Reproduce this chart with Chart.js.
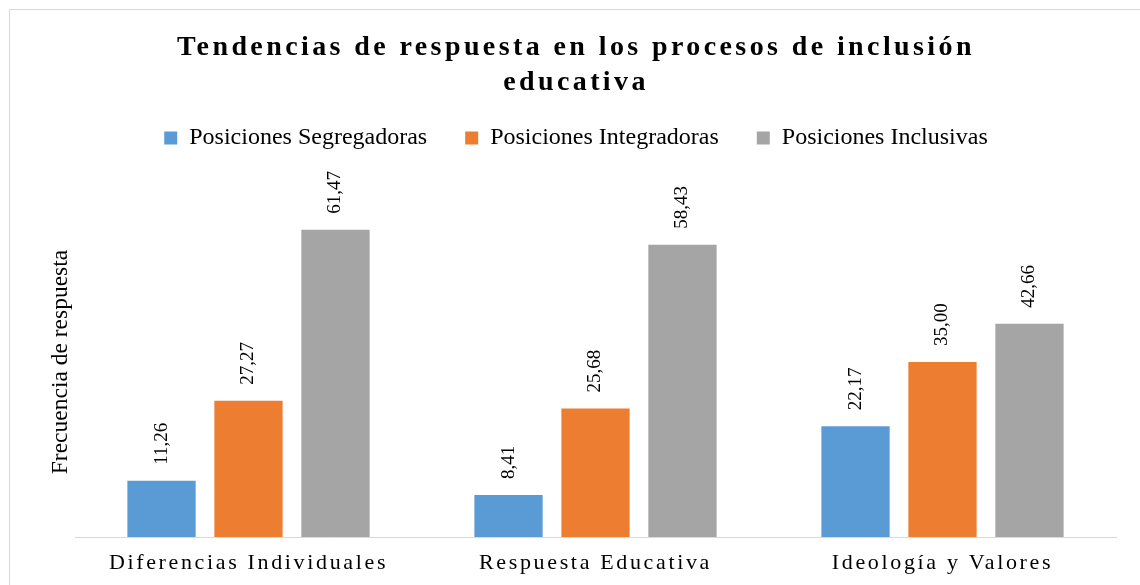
<!DOCTYPE html>
<html>
<head>
<meta charset="utf-8">
<script src="https://cdn.jsdelivr.net/npm/chart.js@4/dist/chart.umd.min.js"></script>
<style>
    body { margin: 0; background: #fff; overflow: hidden; }
    #frame { position: absolute; left: 9px; top: 9px; width: 1200px; height: 1000px; border: 1px solid #d9d9d9; }
    #wrap { position: absolute; left: 0; top: 0; width: 1140px; height: 585px; }
</style>
</head>
<body>
<div id="frame"></div>
<div id="wrap"><canvas id="resultsChart"></canvas></div>
<script>
const categories = ['Diferencias Individuales', 'Respuesta Educativa', 'Ideología y Valores'];
const seriesNames = ['Posiciones Segregadoras', 'Posiciones Integradoras', 'Posiciones Inclusivas'];
const segregadoras = [11.26, 8.41, 22.17];
const integradoras = [27.27, 25.68, 35.00];
const inclusivas = [61.47, 58.43, 42.66];

const colors = ['#5B9BD5', '#ED7D31', '#A5A5A5'];
const serif = '"Liberation Serif", "Times New Roman", serif';


// canvas text has no letter-spacing option in Chart.js, so wrap the draw of title and x axis
function withSpacing(item, spacing) {
    if (!item || item._spaced) return;
    const orig = item.draw;
    item.draw = function (area) {
        const ctx = this.ctx;
        ctx.save();
        ctx.letterSpacing = spacing;
        orig.call(this, area);
        ctx.restore();
    };
    item._spaced = true;
}

// extra room under the legend, the plot starts lower in the original
function legendGap(legend, extra) {
    if (!legend || legend._gap) return;
    const orig = legend.fit;
    legend.fit = function () {
        orig.call(this);
        this.height += extra;
    };
    legend._gap = true;
}

const spacingPlugin = {
    id: 'spacing',
    beforeLayout(chart) {
        withSpacing(chart.titleBlock, '3.4px');
        withSpacing(chart.scales.x, '2.65px');
        legendGap(chart.legend, 27);
    }
};

const valueLabels = {
    id: 'valueLabels',
    afterDatasetsDraw(chart) {
        const ctx = chart.ctx;
        ctx.save();
        ctx.font = '19px ' + serif;
        ctx.fillStyle = '#000';
        ctx.textAlign = 'left';
        ctx.textBaseline = 'middle';
        chart.data.datasets.forEach((ds, i) => {
            chart.getDatasetMeta(i).data.forEach((bar, j) => {
                ctx.save();
                ctx.translate(bar.x, bar.y - 16);
                ctx.rotate(-Math.PI / 2);
                ctx.fillText(ds.data[j].toFixed(2).replace('.', ','), 0, 0);
                ctx.restore();
            });
        });
        ctx.restore();
    }
};

const series = [segregadoras, integradoras, inclusivas];

const ctx = document.getElementById('resultsChart').getContext('2d');

new Chart(ctx, {
    type: 'bar',
    data: {
        labels: categories,
        datasets: series.map((values, i) => ({
            label: seriesNames[i],
            data: values,
            backgroundColor: colors[i],
            borderWidth: 0,
            categoryPercentage: 0.752,
            barPercentage: 0.785
        }))
    },
    options: {
        responsive: true,
        maintainAspectRatio: false,
        animation: false,
        layout: {
            padding: { top: 10, left: 36, right: 24, bottom: 0 }
        },
        plugins: {
            tooltip: { enabled: false },
            title: {
                display: true,
                text: ['Tendencias de respuesta en los procesos de inclusión', 'educativa'],
                color: '#000',
                font: { family: serif, size: 28, weight: 'bold', lineHeight: 1.25 },
                padding: { top: 20, bottom: -12 }
            },
            legend: {
                position: 'top',
                labels: {
                    color: '#000',
                    font: { family: serif, size: 24 },
                    boxWidth: 13,
                    boxHeight: 13,
                    padding: 38
                }
            }
        },
        scales: {
            x: {
                grid: { display: false, drawTicks: false },
                border: { display: true, color: '#d9d9d9', width: 1 },
                ticks: {
                    color: '#000',
                    font: { family: serif, size: 22 },
                    padding: 13,
                    maxRotation: 0
                },
                afterFit(scale) { scale.height = 48; }
            },
            y: {
                min: 0,
                max: 70,
                grid: { display: false },
                border: { display: false },
                ticks: { display: false },
                title: {
                    display: true,
                    text: 'Frecuencia de respuesta',
                    color: '#000',
                    font: { family: serif, size: 23.5 },
                    padding: { top: 11, bottom: 0 }
                },
                afterFit(scale) { scale.width = 39; }
            }
        }
    },
    plugins: [spacingPlugin, valueLabels]
});
</script>
</body>
</html>
